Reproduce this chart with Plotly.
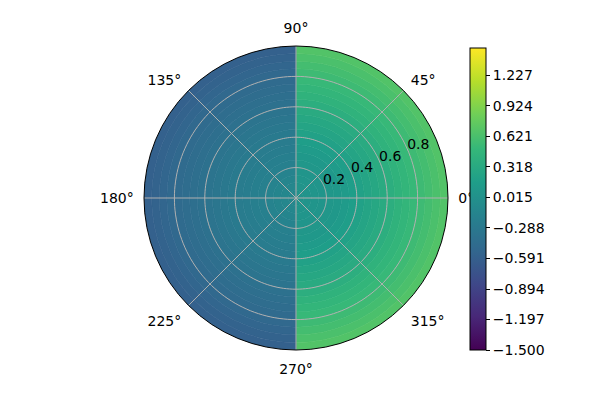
import plotly.graph_objects as go

# Radial ring edges and values
ring_inner = [0.00, 0.05, 0.10, 0.15, 0.20, 0.25, 0.30, 0.35, 0.40, 0.45,
              0.50, 0.55, 0.60, 0.65, 0.70, 0.75, 0.80, 0.85, 0.90, 0.95]
ring_width = 0.05
right_values = [0.04, 0.045, 0.055, 0.065, 0.08, 0.10, 0.13, 0.17, 0.21, 0.25,
                0.29, 0.33, 0.38, 0.43, 0.47, 0.51, 0.55, 0.59, 0.63, 0.67]
left_values = [-0.10, -0.11, -0.13, -0.16, -0.19, -0.21, -0.23, -0.25, -0.27, -0.29,
               -0.32, -0.35, -0.38, -0.41, -0.44, -0.46, -0.49, -0.52, -0.55, -0.57]

half_centers = [0, 180]
colorbar_ticks = [-1.5, -1.197, -0.894, -0.591, -0.288, 0.015, 0.318, 0.621, 0.924, 1.227]
colorbar_text = ["\u22121.500", "\u22121.197", "\u22120.894", "\u22120.591", "\u22120.288",
                 "0.015", "0.318", "0.621", "0.924", "1.227"]
angle_ticks = [0, 45, 90, 135, 180, 225, 270, 315]
radial_ticks = [0.2, 0.4, 0.6, 0.8]

GRID = "#b0b0b0"
OFF = 8          # page body margin in the browser
LABEL_SHIFT = 25  # radial tick labels sit to the right of the 22.5 deg line
FONT = dict(family="DejaVu Sans", size=14, color="black")

thetas, bases, rs, cols = [], [], [], []
for i, r0 in enumerate(ring_inner):
    for th, vals in zip(half_centers, [right_values, left_values]):
        thetas.append(th)
        bases.append(r0)
        rs.append(ring_width)
        cols.append(vals[i])

fig = go.Figure()
fig.add_trace(go.Barpolar(
    theta=thetas, r=rs, base=bases, width=[180] * len(thetas),
    marker=dict(
        color=cols, colorscale="Viridis", cmin=-1.5, cmax=1.5,
        line=dict(width=0.6, color=cols, colorscale="Viridis", cmin=-1.5, cmax=1.5),
        colorbar=dict(
            x=(470 - OFF) / 600, xanchor="left", xpad=0, ypad=0,
            y=1 - (199 - OFF) / 400, yanchor="middle",
            len=302 / 400, lenmode="fraction", thickness=16,
            outlinecolor="black", outlinewidth=1,
            tickvals=colorbar_ticks, ticktext=colorbar_text,
            ticks="outside", ticklen=4, tickcolor="black",
            tickfont=FONT,
        ),
        showscale=True,
    ),
    hoverinfo="skip",
))

# grid drawn above the colour mesh, as in the reference
circle_theta = list(range(0, 361, 2))
for rv in radial_ticks:
    fig.add_trace(go.Scatterpolar(
        r=[rv] * len(circle_theta), theta=circle_theta, mode="lines",
        line=dict(color=GRID, width=1), hoverinfo="skip", showlegend=False))
for a in angle_ticks:
    fig.add_trace(go.Scatterpolar(
        r=[0, 1], theta=[a, a], mode="lines",
        line=dict(color=GRID, width=1), hoverinfo="skip", showlegend=False))

# invisible trace on a second polar overlay that only carries the radial tick labels
fig.add_trace(go.Scatterpolar(r=[0], theta=[0], mode="markers", subplot="polar2",
                              marker=dict(opacity=0), hoverinfo="skip", showlegend=False))

dom_x = [(144 - OFF) / 600, (448 - OFF) / 600]
dom_y = [1 - (350 - OFF) / 400, 1 - (46 - OFF) / 400]

fig.update_layout(
    width=600, height=400,
    margin=dict(l=0, r=0, t=0, b=0, autoexpand=False),
    paper_bgcolor="white",
    showlegend=False,
    font=FONT,
    polar=dict(
        domain=dict(x=dom_x, y=dom_y),
        bgcolor="white",
        bargap=0,
        angularaxis=dict(
            rotation=0, direction="counterclockwise",
            tickvals=angle_ticks, ticktext=[f"{a}\u00b0" for a in angle_ticks],
            showgrid=False,
            showline=True, linecolor="black", linewidth=1,
            ticks="outside", ticklen=7, tickcolor="rgba(0,0,0,0)",
            layer="above traces", tickfont=FONT,
        ),
        radialaxis=dict(range=[0, 1], showgrid=False, showline=False,
                        showticklabels=False, ticks=""),
    ),
    polar2=dict(
        domain=dict(x=[dom_x[0] + LABEL_SHIFT / 600, dom_x[1] + LABEL_SHIFT / 600], y=dom_y),
        bgcolor="rgba(0,0,0,0)",
        angularaxis=dict(visible=False, showgrid=False, showline=False,
                         showticklabels=False, ticks=""),
        radialaxis=dict(
            range=[0, 1], angle=22.5, tickangle=22.5, side="counterclockwise",
            tickvals=radial_ticks, ticktext=[str(v) for v in radial_ticks],
            showgrid=False, showline=False, ticks="", tickfont=FONT,
        ),
    ),
)

fig.write_html("out.html")
